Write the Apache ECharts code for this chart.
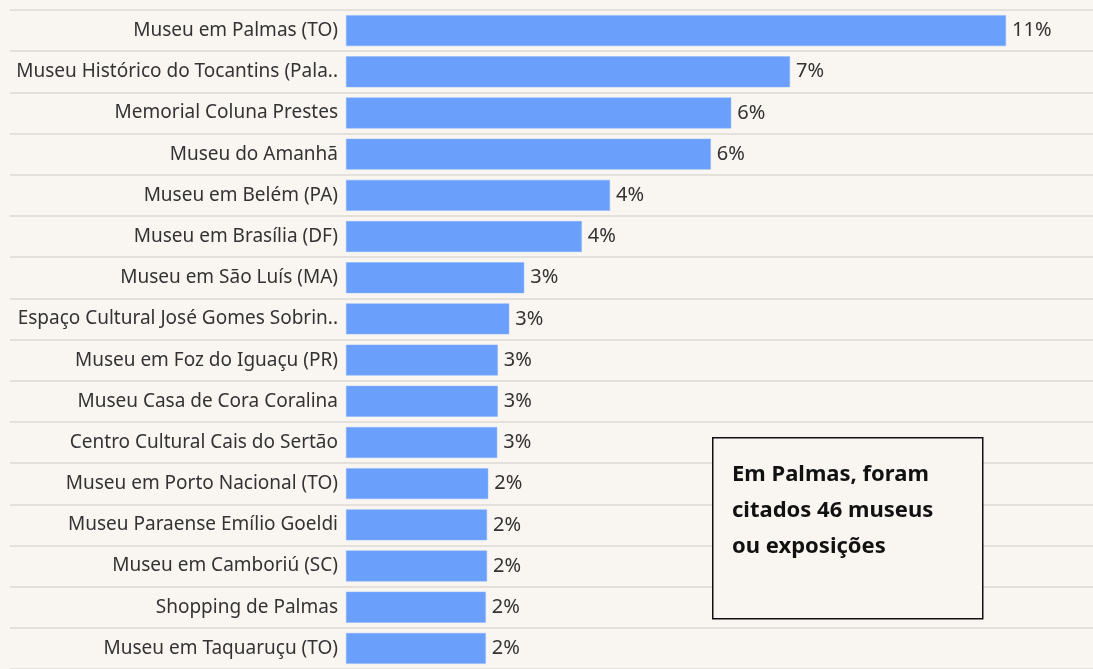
<!DOCTYPE html>
<html>
<head>
<meta charset="utf-8">
<script src="https://cdn.jsdelivr.net/npm/echarts@6/dist/echarts.min.js"></script>
<style>
  html, body { margin: 0; padding: 0; background: #f9f6f2; }
  #chart { width: 1093px; height: 669px; }
</style>
</head>
<body>
<div id="chart"></div>
<script>
// museus citados em Palmas (% das menções)
const categories = [
  'Museu em Palmas (TO)',
  'Museu Histórico do Tocantins (Pala..',
  'Memorial Coluna Prestes',
  'Museu do Amanhã',
  'Museu em Belém (PA)',
  'Museu em Brasília (DF)',
  'Museu em São Luís (MA)',
  'Espaço Cultural José Gomes Sobrin..',
  'Museu em Foz do Iguaçu (PR)',
  'Museu Casa de Cora Coralina',
  'Centro Cultural Cais do Sertão',
  'Museu em Porto Nacional (TO)',
  'Museu Paraense Emílio Goeldi',
  'Museu em Camboriú (SC)',
  'Shopping de Palmas',
  'Museu em Taquaruçu (TO)'
];
const shares = [11.0, 7.4, 6.42, 6.08, 4.4, 3.93, 2.97, 2.72, 2.53, 2.53, 2.52, 2.37, 2.35, 2.35, 2.33, 2.33];
const note = 'Em Palmas, foram\ncitados 46 museus\nou exposições';

const chart = echarts.init(document.getElementById('chart'));

chart.setOption({
  backgroundColor: '#f9f6f2',
  animation: false,
  textStyle: { fontFamily: 'Noto Sans' },
  grid: [
    { left: 10, right: 0, top: 10, height: 663 },   // só as linhas
    { left: 346, right: 27, top: 10, height: 663 }  // barras
  ],
  xAxis: [
    { type: 'value', gridIndex: 0, show: false },
    { type: 'value', gridIndex: 1, min: 0, max: 12, show: false }
  ],
  yAxis: [
    {
      type: 'category',
      gridIndex: 0,
      data: categories,
      inverse: true,
      axisLine: { show: false },
      axisTick: { show: false },
      axisLabel: { show: false },
      splitLine: { show: true, lineStyle: { color: '#dcdad6', width: 1.5 } }
    },
    {
      type: 'category',
      gridIndex: 1,
      data: categories,
      inverse: true,
      axisLine: { show: false },
      axisTick: { show: false },
      splitLine: { show: false },
      axisLabel: {
        color: '#333333',
        fontSize: 19,
        margin: 8,
        verticalAlign: 'middle',
        lineHeight: 24,
        padding: [6, 0, 0, 0]
      }
    }
  ],
  series: [
    {
      type: 'bar',
      xAxisIndex: 1,
      yAxisIndex: 1,
      data: shares,
      barCategoryGap: '25%',
      itemStyle: {
        color: '#6a9ffb',
        borderColor: '#8ab4fc',
        borderWidth: 0.5
      },
      label: {
        show: true,
        position: 'right',
        distance: 6,
        color: '#333333',
        fontSize: 20,
        lineHeight: 24,
        padding: [6, 0, 0, 0],
        formatter: (p) => Math.round(p.value) + '%'
      }
    }
  ],
  graphic: [
    {
      type: 'rect',
      left: 712,
      top: 437,
      z: 100,
      shape: { width: 270, height: 181 },
      style: { fill: '#f9f6f2', stroke: '#111111', lineWidth: 1.5 }
    },
    {
      type: 'text',
      left: 732,
      top: 457,
      z: 101,
      style: {
        text: note,
        fill: '#111111',
        font: 'bold 22px "Noto Sans"',
        lineHeight: 36
      }
    }
  ]
});
</script>
</body>
</html>
